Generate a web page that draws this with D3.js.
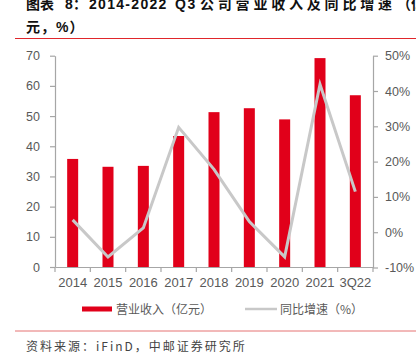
<!DOCTYPE html>
<html><head><meta charset="utf-8">
<script src="https://cdn.jsdelivr.net/npm/d3@7"></script>
<style>
html,body{margin:0;padding:0;background:#fff;}
svg{display:block;}
</style></head>
<body>
<script>
const categories = ["2014","2015","2016","2017","2018","2019","2020","2021","3Q22"];
const revenue = [35.8, 33.2, 33.5, 43.4, 51.3, 52.6, 48.9, 69.2, 56.9];
const growth = [3.5, -7.0, 1.2, 29.7, 17.8, 3.0, -7.0, 41.9, 11.5];
const leftTicks = [0,10,20,30,40,50,60,70];
const rightTicks = [-10,0,10,20,30,40,50];
const titleLine1 = ["图表", "8", "：", "2014-2022", "Q3", "公司营业收入及同比增速", "（亿"];
const titleLine2 = "元，%）";
const legendLabels = ["营业收入（亿元）", "同比增速（%）"];
const sourceText = "资料来源：iFinD，中邮证券研究所";

const W = 416, H = 360;
const svg = d3.select("body").append("svg").attr("width", W).attr("height", H);
svg.append("rect").attr("width", W).attr("height", H).attr("fill", "#fff");

// Title (justified text approximated with per-segment positions)
const cjk = "'Noto Sans CJK SC', 'Noto Sans', sans-serif";
const titleFont = "'Liberation Sans', 'Noto Sans CJK SC', sans-serif";
const segX = [26, 65, 73, 89, 175, 200, 397];
const segLS = [0, 0, 0, 1.3, 1.5, 3.8, 0];
const t1 = svg.append("text").attr("y", 8.5).attr("font-family", titleFont)
  .attr("font-weight", 700).attr("font-size", 14).attr("fill", "#111");
titleLine1.forEach((s, i) => {
  t1.append("tspan").attr("x", segX[i]).attr("letter-spacing", segLS[i]).text(s);
});
svg.append("text").attr("x", 26).attr("y", 32).attr("font-family", titleFont)
  .attr("font-weight", 700).attr("font-size", 14).attr("letter-spacing", 1)
  .attr("fill", "#111").text(titleLine2);
svg.append("line").attr("x1", 15).attr("x2", 416).attr("y1", 38.5).attr("y2", 38.5)
  .attr("stroke", "#e0262b").attr("stroke-width", 1.2);

// Scales
const plotL = 55, plotR = 373, plotT = 55.7, plotB = 267;
const x = d3.scaleBand().domain(categories).range([plotL, plotR]).padding(0);
const yL = d3.scaleLinear().domain([0, 70]).range([plotB, plotT]);
const yR = d3.scaleLinear().domain([-10, 50]).range([plotB + 0.5, plotT]);

const axisColor = "#a6a6a6", labelColor = "#595959";
const sans = "'Liberation Sans', Arial, sans-serif";

// Bars
const barW = 11;
svg.append("g").selectAll("rect").data(categories).join("rect")
  .attr("x", (d) => x(d) + x.bandwidth() / 2 - barW / 2)
  .attr("width", barW)
  .attr("y", (d, i) => yL(revenue[i]))
  .attr("height", (d, i) => yL(0) - yL(revenue[i]))
  .attr("fill", "#e1001a");

// Line
const line = d3.line()
  .x((d, i) => x(categories[i]) + x.bandwidth() / 2)
  .y((d) => yR(d));
svg.append("path").datum(growth).attr("d", line)
  .attr("fill", "none").attr("stroke", "#c8c8c8").attr("stroke-width", 3)
  .attr("stroke-linejoin", "miter");

function styleAxis(g, size) {
  g.select(".domain").attr("stroke", axisColor).attr("stroke-width", 1.2);
  g.selectAll(".tick line").attr("stroke", axisColor).attr("stroke-width", 1.2);
  g.selectAll(".tick text").attr("fill", labelColor).attr("font-family", sans).attr("font-size", size);
}

// Left axis
const gL = svg.append("g").attr("transform", `translate(${plotL},0)`)
  .call(d3.axisLeft(yL).tickValues(leftTicks).tickSize(5).tickSizeOuter(0).tickPadding(10));
styleAxis(gL, 12.5);

// Right axis
const gR = svg.append("g").attr("transform", `translate(${plotR},0)`)
  .call(d3.axisRight(yR).tickValues(rightTicks).tickSize(5).tickSizeOuter(0).tickPadding(7)
    .tickFormat(d => d + "%"));
styleAxis(gR, 12.5);

// X axis
const gX = svg.append("g").attr("transform", `translate(0,${plotB})`)
  .call(d3.axisBottom(x).tickSize(0).tickPadding(11));
gX.select(".domain").attr("stroke", axisColor).attr("stroke-width", 1.2);
gX.selectAll(".tick text").attr("fill", labelColor).attr("font-family", sans).attr("font-size", 13);
const bounds = categories.map(c => x(c)).concat([plotR]);
gX.selectAll(".bnd").data(bounds).join("line").attr("class", "bnd")
  .attr("x1", d => d).attr("x2", d => d).attr("y1", 0).attr("y2", 5)
  .attr("stroke", axisColor).attr("stroke-width", 1.2);

// Legend
const leg = svg.append("g");
leg.append("rect").attr("x", 82).attr("y", 306.5).attr("width", 30).attr("height", 5).attr("fill", "#e1001a");
leg.append("text").attr("x", 116).attr("y", 313.5).attr("font-family", cjk).attr("font-size", 12)
  .attr("fill", labelColor).text(legendLabels[0]);
leg.append("line").attr("x1", 245).attr("x2", 277).attr("y1", 309).attr("y2", 309)
  .attr("stroke", "#c8c8c8").attr("stroke-width", 2.5);
leg.append("text").attr("x", 280).attr("y", 313.5).attr("font-family", cjk).attr("font-size", 12)
  .attr("fill", labelColor).text(legendLabels[1]);

// Bottom rule & source
svg.append("line").attr("x1", 15).attr("x2", 416).attr("y1", 331).attr("y2", 331)
  .attr("stroke", "#e57373").attr("stroke-width", 1);
svg.append("text").attr("x", 26).attr("y", 351).attr("font-family", cjk).attr("font-size", 12)
  .attr("letter-spacing", 2).attr("fill", "#444").text(sourceText);
</script>
</body></html>
